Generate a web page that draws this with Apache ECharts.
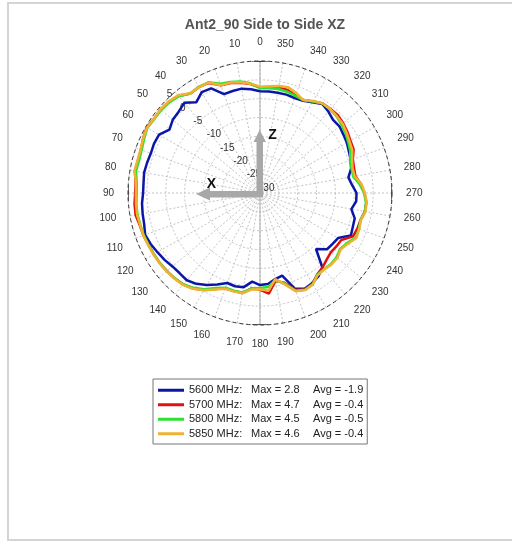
<!DOCTYPE html>
<html>
<head>
<meta charset="utf-8">
<script src="https://cdn.jsdelivr.net/npm/echarts@6/dist/echarts.min.js"></script>
<style>
  html, body { margin: 0; padding: 0; background: #fff; }
  #main { width: 512px; height: 543px; }
</style>
</head>
<body>
<div id="main"></div>
<script>
const angles = [0, 5, 10, 15, 20, 25, 30, 35, 40, 45, 50, 55, 60, 65, 70, 75, 80, 85,
  90, 95, 100, 105, 110, 115, 120, 125, 130, 135, 140, 145, 150, 155, 160, 165, 170, 175,
  180, 185, 190, 195, 200, 205, 210, 215, 220, 225, 230, 235, 240, 245, 250, 255, 260, 265,
  270, 275, 280, 285, 290, 295, 300, 305, 310, 315, 320, 325, 330, 335, 340, 345, 350, 355];

const gain5600 = [-3.0, -2.4, -1.9, -2.0, -2.1, 0.6, 0.9, -0.6, 1.2, 0.5, 0.2, -0.7, 0.9, 1.0, 0.8, 1.0, 1.2, 1.0,
  1.0, 1.4, 1.6, 1.8, 2.4, 2.0, 1.4, 0.9, 0.3, 0.1, 0.2, -0.6, -1.8, -3.2, -4.6, -4.4, -4.6, -6.4,
  -5.6, -5.8, -6.8, -7.3, -3.0, -2.0, -2.4, -3.0, -4.3, -9.0, -6.8, -6.5, -6.1, -3.4, -3.8, -4.0, -5.4, -4.4,
  -4.4, -5.5, -6.2, -5.0, -4.4, -4.0, -3.4, -3.0, -2.5, -2.6, -1.8, -1.2, -2.2, -3.0, -3.2, -3.0, -3.0, -3.0];

const gain5700 = [-2.0, -1.0, -0.3, 0.2, 0.4, 2.2, 2.4, 2.2, 3.6, 4.2, 4.4, 4.3, 4.7, 4.2, 3.6, 3.5, 3.7, 3.1,
  3.1, 3.4, 3.5, 3.0, 2.9, 2.6, 2.5, 2.4, 2.2, 2.0, 1.7, 0.9, -0.3, -1.9, -3.1, -3.1, -3.1, -4.6,
  -4.4, -3.2, -6.3, -5.4, -2.6, -1.8, -2.2, -3.6, -4.2, -5.0, -5.5, -5.3, -5.1, -2.8, -2.5, -2.4, -1.8, -1.7,
  -2.3, -3.1, -4.3, -4.2, -3.8, -2.6, -2.3, -1.7, -1.2, -0.8, -0.9, -1.0, -2.0, -2.8, -2.5, -1.7, -1.6, -1.9];

const gain5800 = [-2.2, -0.8, 0.0, 0.5, 0.8, 2.4, 2.5, 2.2, 3.5, 4.0, 4.2, 4.2, 4.5, 3.9, 3.4, 3.2, 3.4, 2.8,
  2.7, 2.9, 3.0, 2.8, 2.8, 2.6, 2.5, 2.4, 2.2, 2.0, 1.6, 0.7, -0.5, -2.2, -3.3, -3.2, -3.2, -4.6,
  -4.8, -5.0, -6.5, -5.2, -2.4, -1.7, -2.0, -3.5, -3.6, -3.4, -3.5, -4.1, -3.4, -2.0, -2.1, -2.4, -1.7, -1.8,
  -2.4, -3.5, -4.9, -4.9, -4.5, -3.6, -3.0, -2.3, -1.8, -1.3, -1.1, -1.0, -2.0, -2.8, -2.6, -2.2, -2.0, -2.1];

const gain5850 = [-1.8, -0.9, -0.2, 0.3, 0.4, 2.3, 2.4, 2.3, 3.8, 4.3, 4.5, 4.3, 4.6, 4.2, 3.7, 3.6, 3.8, 3.0,
  2.9, 3.0, 3.1, 2.9, 2.9, 2.7, 2.6, 2.5, 2.3, 2.1, 1.8, 1.0, -0.2, -1.8, -3.0, -3.0, -3.0, -4.3,
  -4.5, -4.0, -6.8, -5.0, -2.3, -1.6, -2.0, -3.4, -3.5, -3.2, -3.2, -3.9, -3.1, -1.8, -2.0, -2.3, -1.6, -1.6,
  -2.2, -3.0, -4.5, -4.6, -4.0, -3.0, -2.6, -2.0, -1.4, -1.2, -1.0, -1.0, -1.8, -2.8, -1.8, -1.0, -1.2, -1.6];

const freqNames = ['5600 MHz', '5700 MHz', '5800 MHz', '5850 MHz'];
const maxVals = ['2.8', '4.7', '4.5', '4.6'];
const avgVals = ['-1.9', '-0.4', '-0.5', '-0.4'];
const colors = ['#0a16a8', '#e01010', '#2ee030', '#f0b232'];
const ringMarkAngles = [0, 90, 180, 270];

const CX = 260, CY = 193, R = 132;

const chart = echarts.init(document.getElementById('main'));
const font = 'Liberation Sans, Arial, sans-serif';

const gains = [gain5600, gain5700, gain5800, gain5850];
const curveSeries = gains.map((g, k) => ({
  name: freqNames[k],
  type: 'line',
  coordinateSystem: 'polar',
  polarIndex: 0,
  showSymbol: false,
  symbol: 'none',
  lineStyle: { width: 2.5, color: colors[k] },
  itemStyle: { color: colors[k] },
  z: 5 + k,
  data: angles.map((a, i) => [g[i], a]).concat([[g[0], 360]])
}));

const markSeries = ringMarkAngles.map(a => ({
  type: 'line',
  coordinateSystem: 'polar',
  polarIndex: 0,
  silent: true,
  symbol: 'none',
  lineStyle: { width: 1.5, color: '#333' },
  z: 3,
  data: [[5, a - 3.5], [5, a], [5, a + 3.5]]
}));

const option = {
  backgroundColor: '#fff',
  animation: false,
  title: {
    text: 'Ant2_90 Side to Side XZ',
    left: CX,
    top: 13,
    textAlign: 'center',
    textStyle: { fontFamily: font, fontSize: 14, fontWeight: 'bold', color: '#555' }
  },
  polar: [
    { center: [CX, CY], radius: R },
    { center: [CX, CY], radius: R }
  ],
  angleAxis: [
    {
      polarIndex: 0,
      type: 'value',
      min: 0, max: 360, interval: 10,
      startAngle: 90,
      clockwise: false,
      axisLine: { lineStyle: { color: '#333', width: 1, type: [4, 3] } },
      axisTick: { show: false },
      axisLabel: {
        margin: 14, fontSize: 10, color: '#333', fontFamily: font,
        formatter: v => (v === 360 ? '' : String(v))
      },
      splitLine: { lineStyle: { color: '#c4c4c4', type: [2, 2], width: 1 } }
    },
    {
      polarIndex: 1,
      type: 'value',
      min: 0, max: 360,
      startAngle: 135,
      show: false
    }
  ],
  radiusAxis: [
    {
      polarIndex: 0,
      type: 'value',
      min: -30, max: 5, interval: 5,
      axisLine: { show: false },
      axisTick: { show: false },
      axisLabel: { show: false },
      splitLine: { lineStyle: { color: '#c4c4c4', type: [2, 2], width: 1 } }
    },
    {
      polarIndex: 1,
      type: 'value',
      min: -30, max: 5, interval: 5,
      axisLine: { show: false },
      axisTick: { show: false },
      splitLine: { show: false },
      axisLabel: {
        margin: 0, fontSize: 10, color: '#333', fontFamily: font,
        align: 'left', verticalAlign: 'bottom'
      }
    }
  ],
  legend: {
    data: freqNames,
    orient: 'vertical',
    left: 153,
    top: 379,
    padding: [4, 4, 3, 5],
    itemWidth: 26,
    itemHeight: 3,
    itemGap: 0,
    icon: 'rect',
    borderColor: '#777',
    borderWidth: 1,
    borderRadius: 0,
    selectedMode: false,
    formatter: name => {
      const i = freqNames.indexOf(name);
      return '{a|' + name + ':}{b|Max = ' + maxVals[i] + '}{c|Avg = ' + avgVals[i] + '}';
    },
    textStyle: {
      fontFamily: font, fontSize: 11, color: '#222', lineHeight: 14.5,
      rich: {
        a: { width: 62, fontSize: 11, fontFamily: font, color: '#222', lineHeight: 14.5 },
        b: { width: 62, fontSize: 11, fontFamily: font, color: '#222', lineHeight: 14.5 },
        c: { fontSize: 11, fontFamily: font, color: '#222', lineHeight: 14.5 }
      }
    }
  },
  graphic: [
    {
      type: 'rect', silent: true, z: -1,
      shape: { x: 8, y: 3, width: 520, height: 537 },
      style: { fill: 'none', stroke: '#d4d4d4', lineWidth: 2 }
    },
    // Z arrow
    {
      type: 'rect', silent: true, z: 50,
      shape: { x: CX - 3.5, y: CY - 51, width: 6.5, height: 55 },
      style: { fill: '#a8a8a8' }
    },
    {
      type: 'polygon', silent: true, z: 50,
      shape: { points: [[CX - 6.5, CY - 51], [CX + 6, CY - 51], [CX - 0.3, CY - 63]] },
      style: { fill: '#a8a8a8' }
    },
    // X arrow
    {
      type: 'rect', silent: true, z: 50,
      shape: { x: CX - 50, y: CY - 2, width: 53, height: 6.5 },
      style: { fill: '#a8a8a8' }
    },
    {
      type: 'polygon', silent: true, z: 50,
      shape: { points: [[CX - 50, CY - 5.5], [CX - 50, CY + 7.5], [CX - 64, CY + 1]] },
      style: { fill: '#a8a8a8' }
    },
    {
      type: 'text', silent: true, z: 51,
      style: { text: 'Z', x: 272.5, y: 135, font: 'bold 14px ' + font, fill: '#111', align: 'center', verticalAlign: 'middle' }
    },
    {
      type: 'text', silent: true, z: 51,
      style: { text: 'X', x: 211.5, y: 184.5, font: 'bold 14px ' + font, fill: '#111', align: 'center', verticalAlign: 'middle' }
    }
  ],
  series: [
    {
      type: 'line',
      coordinateSystem: 'polar',
      polarIndex: 0,
      silent: true,
      symbol: 'none',
      lineStyle: { width: 1, color: '#aaa' },
      z: 2,
      data: [[5, 0], [-30, 0], [5, 180]]
    }
  ].concat(markSeries, curveSeries)
};

chart.setOption(option);
</script>
</body>
</html>
